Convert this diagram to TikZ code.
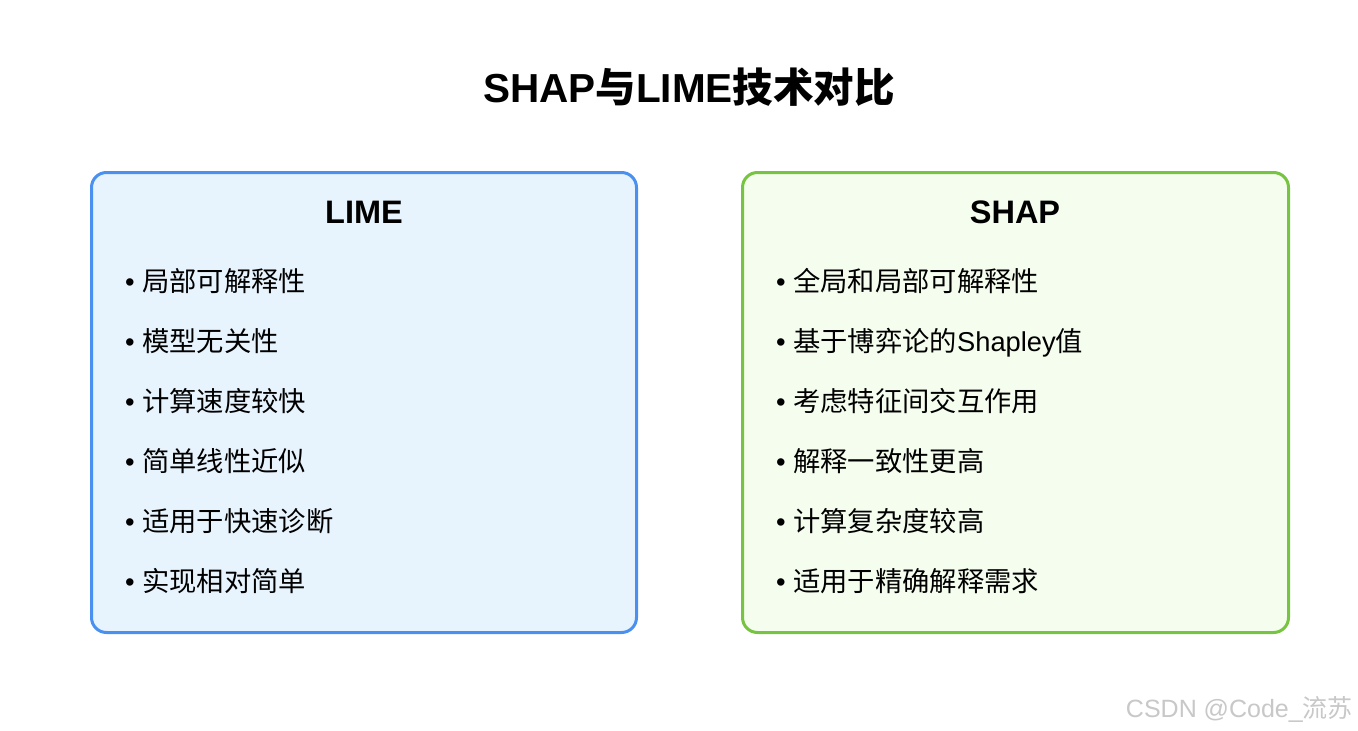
\documentclass[tikz,border=0pt]{standalone}
\usepackage{fontspec}
\setmainfont{Liberation Sans}
\newfontfamily\cjk{Noto Sans CJK SC}
\definecolor{limeborder}{HTML}{4A90F0}
\definecolor{limefill}{HTML}{E8F4FD}
\definecolor{shapborder}{HTML}{76C442}
\definecolor{shapfill}{HTML}{F5FDEE}
\definecolor{wmgray}{HTML}{C8C8C8}
\begin{document}
\begin{tikzpicture}[x=1pt,y=-1pt,
  panel/.style={draw, line width=3pt, rounded corners=15pt, minimum width=545pt, minimum height=460pt, inner sep=0pt},
  heading/.style={font=\fontsize{32.5}{38}\selectfont\bfseries, inner sep=0pt, anchor=base},
  item/.style={font=\fontsize{27.3}{32}\selectfont, inner sep=0pt, anchor=base west},
  titletext/.style={font=\fontsize{40.5}{46}\selectfont\bfseries, inner sep=0pt, anchor=base}
]
\useasboundingbox (0,0) rectangle (1358,731);
\fill[white] (0,0) rectangle (1358,731);

\node[titletext] (title) at (689,102.5) {SHAP{\cjk 与}LIME{\cjk 技术对比}};

\node[panel, draw=limeborder, fill=limefill] (lime) at (364,402.5) {};
\node[panel, draw=shapborder, fill=shapfill, minimum width=546pt] (shap) at (1015.5,402.5) {};

\node[heading] (limeh) at (364,223) {LIME};
\node[heading] (shaph) at (1015,223) {SHAP};

\node[item] (l1) at (125,291) {•\ {\cjk 局部可解释性}};
\node[item] (l2) at (125,351) {•\ {\cjk 模型无关性}};
\node[item] (l3) at (125,411) {•\ {\cjk 计算速度较快}};
\node[item] (l4) at (125,471) {•\ {\cjk 简单线性近似}};
\node[item] (l5) at (125,531) {•\ {\cjk 适用于快速诊断}};
\node[item] (l6) at (125,591) {•\ {\cjk 实现相对简单}};

\node[item] (s1) at (776,291) {•\ {\cjk 全局和局部可解释性}};
\node[item] (s2) at (776,351) {•\ {\cjk 基于博弈论的}Shapley{\cjk 值}};
\node[item] (s3) at (776,411) {•\ {\cjk 考虑特征间交互作用}};
\node[item] (s4) at (776,471) {•\ {\cjk 解释一致性更高}};
\node[item] (s5) at (776,531) {•\ {\cjk 计算复杂度较高}};
\node[item] (s6) at (776,591) {•\ {\cjk 适用于精确解释需求}};

\node[font=\fontsize{25}{29}\selectfont, text=wmgray, inner sep=0pt, anchor=base east] (wm) at (1353,717) {CSDN @Code\_{\cjk 流苏}};
\end{tikzpicture}
\end{document}
